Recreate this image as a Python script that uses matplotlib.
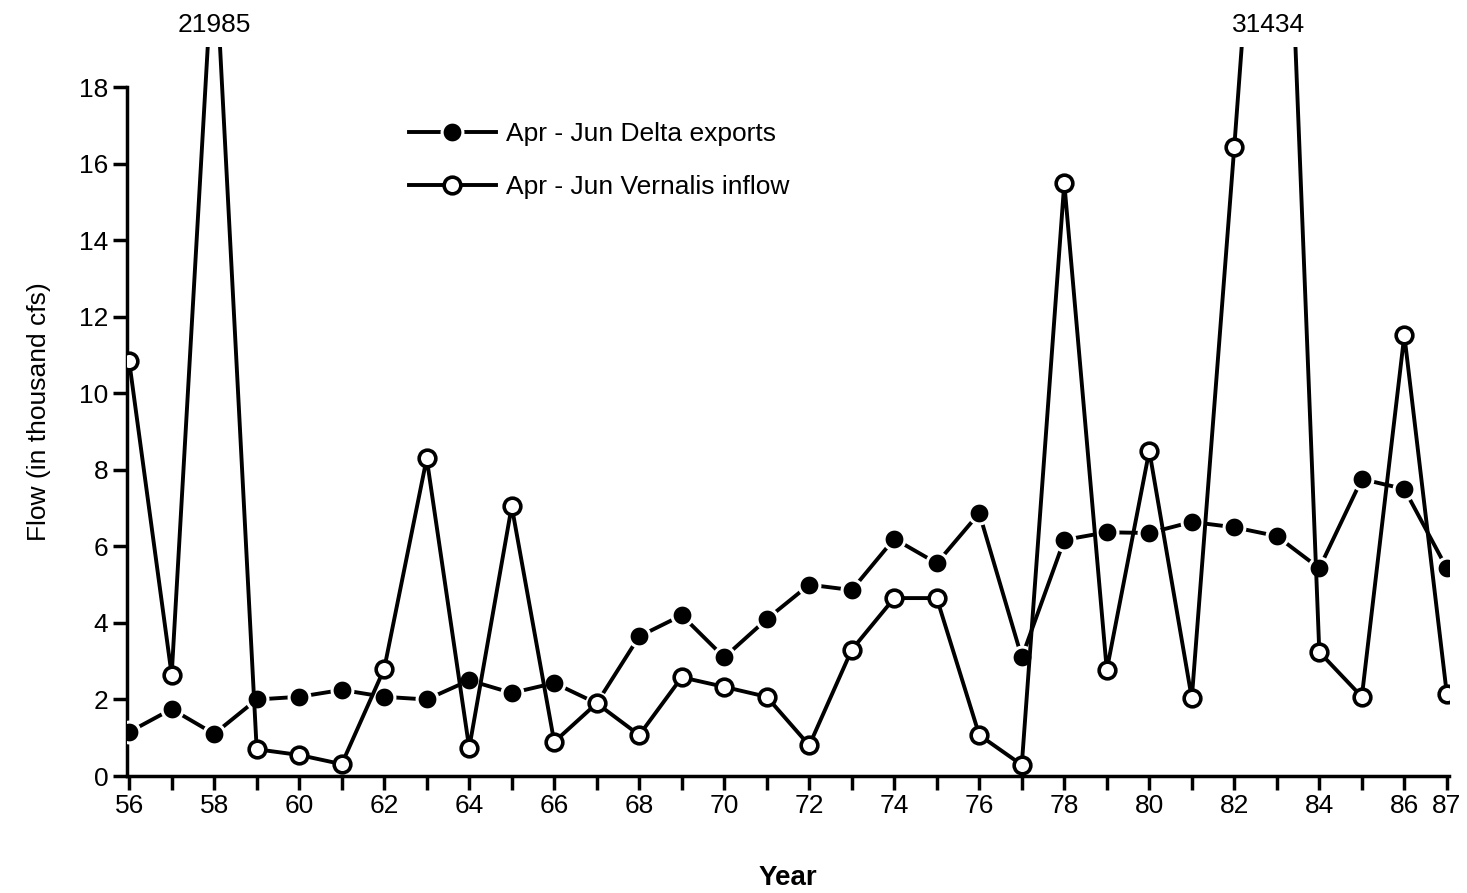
import numpy as np
import matplotlib.pyplot as plt

plt.rcParams['font.family'] = ['Liberation Sans', 'DejaVu Sans']

# Data (thousand cfs), water years 1956-1987
years = list(range(56, 88))
delta_exports = [1.15, 1.75, 1.1, 2.0, 2.07, 2.25, 2.07, 2.0, 2.5, 2.17, 2.43,
                 1.9, 3.65, 4.2, 3.1, 4.1, 5.0, 4.86, 6.2, 5.56, 6.87, 3.1,
                 6.17, 6.37, 6.35, 6.64, 6.5, 6.27, 5.43, 7.76, 7.5, 5.43]
vernalis_inflow = [10.84, 2.64, 21.985, 0.7, 0.55, 0.31, 2.8, 8.3, 0.73, 7.05, 0.89,
                   1.9, 1.07, 2.58, 2.33, 2.07, 0.8, 3.3, 4.65, 4.65, 1.07, 0.29,
                   15.5, 2.77, 8.5, 2.03, 16.45, 31.434, 3.24, 2.07, 11.52, 2.14]
peak_labels = {58: '21985', 82.8: '31434'}
tick_years = list(range(56, 88, 2)) + [87]

fig = plt.figure(figsize=(14.67, 8.93), dpi=100)
ax = fig.add_axes([0.0866, 0.131, 0.9011, 0.8163])

ax.plot(years, delta_exports, color='black', lw=2.8, marker='o', ms=15,
        mfc='black', mec='white', mew=2.2, label='Apr - Jun Delta exports', zorder=3)
ax.plot(years, vernalis_inflow, color='black', lw=2.8, marker='o', ms=12,
        mfc='white', mec='black', mew=2.6, label='Apr - Jun Vernalis inflow', zorder=4)

for x, txt in peak_labels.items():
    ax.text(x, 19.62, txt, ha='center', va='center', fontsize=19, clip_on=False)

ax.set_xlim(55.95, 87.05)
ax.set_ylim(0, 19.05)
ax.spines['top'].set_visible(False)
ax.spines['right'].set_visible(False)
ax.spines['left'].set_bounds(0, 18)
ax.spines['left'].set_linewidth(2.5)
ax.spines['bottom'].set_linewidth(2.5)

ax.set_xticks(tick_years)
ax.set_xticklabels([str(t) for t in tick_years])
ax.set_xticks(range(57, 86, 2), minor=True)
ax.set_yticks(range(0, 19, 2))
ax.tick_params(axis='both', which='both', direction='out', length=10, width=2.5,
               labelsize=19)
ax.tick_params(axis='x', pad=3)

ax.set_xlabel('Year', fontsize=20, fontweight='bold', labelpad=34)
ax.set_ylabel('Flow (in thousand cfs)', fontsize=19, labelpad=20)

ax.legend(loc='upper left', bbox_to_anchor=(0.195, 0.93), frameon=False,
          fontsize=19, handlelength=3.3, handletextpad=0.4, labelspacing=1.1,
          numpoints=1)

fig.savefig('out.png', dpi=100)
